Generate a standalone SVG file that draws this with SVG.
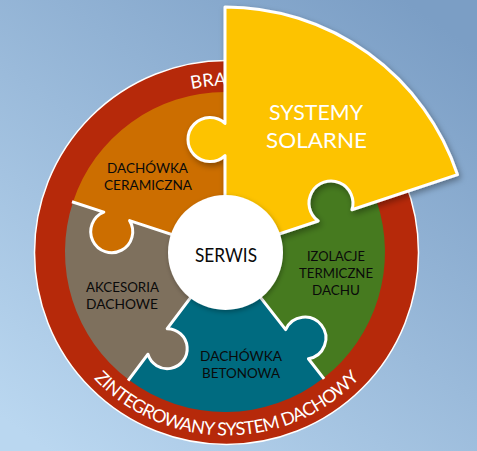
<svg xmlns="http://www.w3.org/2000/svg" width="477" height="451" viewBox="0 0 477 451">
  <defs>
    <linearGradient id="bg" x1="0.85" y1="0" x2="0.1" y2="1">
      <stop offset="0" stop-color="#7b9ec5"/>
      <stop offset="1" stop-color="#bad7f0"/>
    </linearGradient>
    <filter id="shadow" x="-20%" y="-20%" width="140%" height="140%">
      <feDropShadow dx="2" dy="3" stdDeviation="3" flood-color="#000" flood-opacity="0.35"/>
    </filter>
    <filter id="shadowSoft" x="-20%" y="-20%" width="140%" height="140%">
      <feDropShadow dx="1" dy="2" stdDeviation="2.5" flood-color="#000" flood-opacity="0.3"/>
    </filter>
    <path id="topArc" d="M 59.5 252.5 A 167 167 0 0 1 393.5 252.5"/>
    <path id="bottomArc" d="M 68.02 344 A 183 183 0 0 0 384.98 344"/>
    <style>
      .lbl { font-family: Lato, "Liberation Sans", sans-serif; font-size: 14px; fill: #0a0a0a; text-anchor: middle; }
      .big { font-family: Lato, "Liberation Sans", sans-serif; font-size: 22px; fill: #fff; text-anchor: middle; }
      .ringtxt { font-family: Lato, "Liberation Sans", sans-serif; font-size: 18px; fill: #fff; }
      .seam { fill: none; stroke: #fff; stroke-width: 3; stroke-linejoin: round; }
    </style>
  </defs>

  <rect x="0" y="0" width="477" height="451" fill="url(#bg)"/>

  <g id="ring">
    <circle cx="226.5" cy="252.5" r="192" fill="#b6290a" stroke="#fff" stroke-width="1.5"/>
    <text class="ringtxt"><textPath href="#topArc" startOffset="227">BRA</textPath></text>
    <text class="ringtxt" letter-spacing="-0.7"><textPath href="#bottomArc" startOffset="50%" text-anchor="middle">ZINTEGROWANY SYSTEM DACHOWY</textPath></text>
  </g>

  <g id="dachowka-ceramiczna">
    <path d="M 225 252 L 129.6 220.6 A 21 21 0 1 1 103.8 212.15 L 73 202 A 160 160 0 0 1 225 92 Z" fill="#cc6e00"/>
    <text class="lbl" x="147.5" y="173" textLength="81" lengthAdjust="spacingAndGlyphs">DACHÓWKA</text>
    <text class="lbl" x="148" y="190" textLength="88" lengthAdjust="spacingAndGlyphs">CERAMICZNA</text>
  </g>

  <g id="akcesoria-dachowe">
    <path d="M 225 252 L 167.2 328.7 A 20 20 0 1 1 147.97 354.2 L 128.7 379.8 A 160 160 0 0 1 73 202 L 103.8 212.15 A 21 21 0 1 0 129.6 220.6 Z" fill="#7e705d"/>
    <text class="lbl" x="122.5" y="291.5" textLength="73" lengthAdjust="spacingAndGlyphs">AKCESORIA</text>
    <text class="lbl" x="122" y="308.5" textLength="72" lengthAdjust="spacingAndGlyphs">DACHOWE</text>
  </g>

  <g id="dachowka-betonowa">
    <path d="M 225 252 L 285.66 329.64 A 21 21 0 1 1 308.41 358.75 L 323.5 378.1 A 160 160 0 0 1 128.7 379.8 L 147.97 354.2 A 20 20 0 1 0 167.2 328.7 Z" fill="#006b80"/>
    <text class="lbl" x="241" y="361" textLength="82" lengthAdjust="spacingAndGlyphs">DACHÓWKA</text>
    <text class="lbl" x="241" y="378" textLength="78" lengthAdjust="spacingAndGlyphs">BETONOWA</text>
  </g>

  <g id="izolacje-termiczne">
    <path d="M 225 252 L 318.23 220.99 A 22 22 0 1 1 351.92 209.79 L 376.8 201.5 A 160 160 0 0 1 323.5 378.1 L 308.41 358.75 A 21 21 0 1 0 285.66 329.64 Z" fill="#467a1f"/>
    <text class="lbl" x="336" y="261" textLength="58" lengthAdjust="spacingAndGlyphs">IZOLACJE</text>
    <text class="lbl" x="336" y="278" textLength="74" lengthAdjust="spacingAndGlyphs">TERMICZNE</text>
    <text class="lbl" x="336" y="295" textLength="48" lengthAdjust="spacingAndGlyphs">DACHU</text>
  </g>

  <g id="seams">
    <path class="seam" d="M 225 252 L 129.6 220.6 A 21 21 0 1 1 103.8 212.15 L 72 201.7"/>
    <path class="seam" d="M 225 252 L 167.2 328.7 A 20 20 0 1 1 147.97 354.2 L 128.1 380.6"/>
    <path class="seam" d="M 225 252 L 285.66 329.64 A 21 21 0 1 1 308.41 358.75 L 324.1 378.9"/>
  </g>

  <g id="systemy-solarne">
    <path d="M 225 252 L 225 155.6 A 22 22 0 1 1 225 123.4 L 225 7 A 245 245 0 0 1 457.5 174.7 L 351.92 209.79 A 22 22 0 1 0 318.23 220.99 Z" fill="#fdc300" stroke="#fff" stroke-width="3" stroke-linejoin="round" filter="url(#shadow)"/>
    <text class="big" x="316" y="120" textLength="94" lengthAdjust="spacingAndGlyphs">SYSTEMY</text>
    <text class="big" x="316.5" y="148" textLength="101" lengthAdjust="spacingAndGlyphs">SOLARNE</text>
  </g>

  <g id="serwis">
    <circle cx="225.5" cy="252.5" r="57.5" fill="#fff" filter="url(#shadowSoft)"/>
    <text x="226" y="262" font-family="Lato, 'Liberation Sans', sans-serif" font-size="19" fill="#0a0a0a" text-anchor="middle" textLength="62" lengthAdjust="spacingAndGlyphs">SERWIS</text>
  </g>
</svg>
